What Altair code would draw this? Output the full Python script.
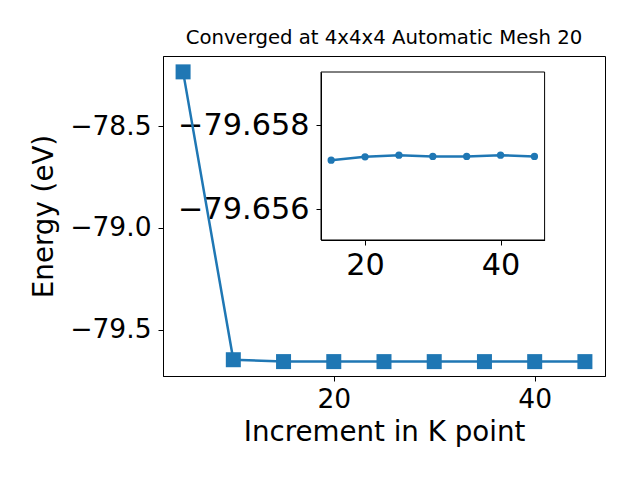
import altair as alt
import pandas as pd

# Main series
kpoints = [5, 10, 15, 20, 25, 30, 35, 40, 45]
energy = [-78.233, -79.648, -79.6572, -79.6572, -79.6573, -79.6573, -79.6573, -79.6573, -79.6573]

# Inset series (zoom on converged region)
inset_k = [15, 20, 25, 30, 35, 40, 45]
inset_energy = [-79.65717, -79.65725, -79.65729, -79.65726, -79.65726, -79.65729, -79.65726]

main_x_ticks = [20, 40]
main_y_ticks = [-79.5, -79.0, -78.5]
inset_x_ticks = [20, 40]
inset_y_ticks = [-79.658, -79.656]

main_df = pd.DataFrame({"k": kpoints, "E": energy})
inset_df = pd.DataFrame({"k": inset_k, "E": inset_energy})
frame_df = pd.DataFrame({"k": [13.5], "k2": [46.5], "E": [-79.65927], "E2": [-79.65527]})

BLUE = "#1f77b4"
FONT = "DejaVu Sans"

mx = alt.X("k:Q", scale=alt.Scale(domain=[3, 47], nice=False, zero=False),
           axis=alt.Axis(values=main_x_ticks, title="Increment in K point", format="d",
                         labelFontSize=26.5, titleFontSize=27.7, titlePadding=6, labelPadding=5))
my = alt.Y("E:Q", scale=alt.Scale(domain=[-79.728, -78.155], nice=False, zero=False),
           axis=alt.Axis(values=main_y_ticks, title="Energy (eV)", format=".1f",
                         labelFontSize=26.5, titleFontSize=27.7, titlePadding=11, labelPadding=7))

main_line = alt.Chart(main_df).mark_line(color=BLUE, strokeWidth=2.5).encode(x=mx, y=my)
main_pts = alt.Chart(main_df).mark_point(shape="square", filled=True, size=225,
                                         color=BLUE, opacity=1).encode(x=mx, y=my)
main_layer = alt.layer(main_line, main_pts)

ix_scale = alt.Scale(domain=[13.5, 46.5], range=[158, 381.6], nice=False, zero=False)
iy_scale = alt.Scale(domain=[-79.65927, -79.65527], range=[16, 184], nice=False, zero=False)
ix_axis = alt.Axis(values=inset_x_ticks, title=None, format="d", orient="bottom",
                   offset=-136, labelFontSize=30.3, labelPadding=5)
iy_axis = alt.Axis(values=inset_y_ticks, title=None, format=".3f", orient="left",
                   offset=-158, labelFontSize=30.3, labelPadding=7)

ix = alt.X("k:Q", scale=ix_scale, axis=ix_axis)
iy = alt.Y("E:Q", scale=iy_scale, axis=iy_axis)

inset_frame = alt.Chart(frame_df).mark_rect(fillOpacity=0, stroke="black", strokeWidth=1).encode(
    x=ix, x2="k2:Q", y=iy, y2="E2:Q",
)
inset_line = alt.Chart(inset_df).mark_line(color=BLUE, strokeWidth=2.5).encode(x=ix, y=iy)
inset_pts = alt.Chart(inset_df).mark_point(shape="circle", filled=True, size=53,
                                           color=BLUE, opacity=1).encode(x=ix, y=iy)
inset_layer = alt.layer(inset_frame, inset_line, inset_pts)

chart = alt.layer(main_layer, inset_layer).resolve_scale(
    x="independent", y="independent"
).properties(
    width=442,
    height=320,
    autosize=alt.AutoSizeParams(type="none"),
    padding={"left": 155, "top": 48, "right": 20, "bottom": 90},
    title=alt.TitleParams("Converged at 4x4x4 Automatic Mesh 20", fontSize=19.7, font=FONT,
                          fontWeight="normal", offset=8, anchor="middle", color="black"),
).configure_view(
    stroke="black", strokeWidth=1
).configure_axis(
    labelFont=FONT, titleFont=FONT, labelColor="black", titleColor="black",
    tickColor="black", domainColor="black", grid=False, tickSize=5,
    titleFontWeight="normal", domainWidth=1, tickWidth=1
)

chart.save("out.html", embed_options={"renderer": "svg", "actions": False})
